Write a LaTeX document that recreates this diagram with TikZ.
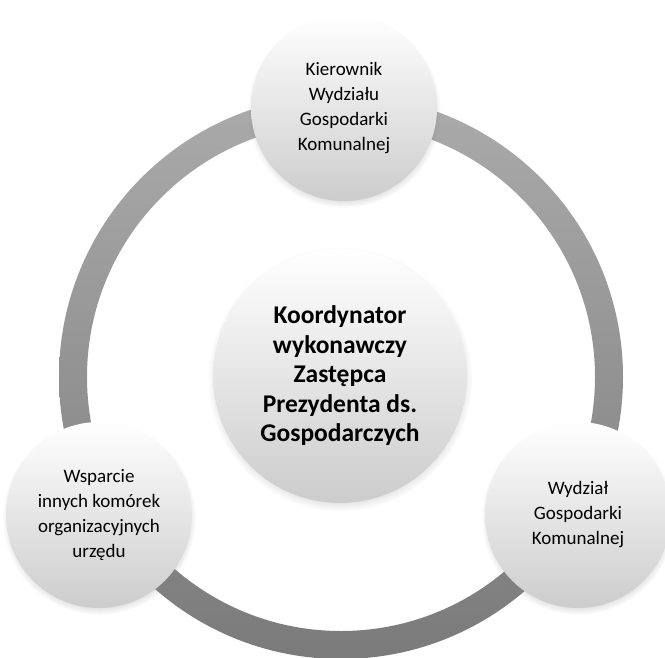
\documentclass[tikz,border=0pt]{standalone}
\usepackage{fontspec}
\setmainfont{Carlito}
\usetikzlibrary{shadows}
\tikzset{
  ball/.style={circle, inner sep=0pt, minimum size=186pt, align=center,
    top color=white, bottom color=black!20,
    circular drop shadow={shadow xshift=0pt, shadow yshift=-3pt, shadow scale=1.04, opacity=0.4},
    font=\fontsize{19}{25}\selectfont, text=black},
  bigball/.style={ball, minimum size=254pt, font=\bfseries\fontsize{25.5}{29.5}\selectfont, text=black}
}
\begin{document}
\begin{tikzpicture}[x=1pt,y=-1pt]
\useasboundingbox (0,0) rectangle (665,657);
\fill[white] (0,0) rectangle (665,657);
% ring
\shade[even odd rule, top color=black!33, bottom color=black!52]
  (341,377) circle (282) (341,377) circle (254);
\node[bigball] (center) at (340,376) {Koordynator\\wykonawczy\\Zastępca\\Prezydenta ds.\\Gospodarczych};
\node[ball] (top) at (344,108) {Kierownik\\Wydziału\\Gospodarki\\Komunalnej};
\node[ball] (left) at (99,515) {Wsparcie\\innych komórek\\organizacyjnych\\urzędu};
\node[ball] (right) at (578,515) {Wydział\\Gospodarki\\Komunalnej};
\end{tikzpicture}
\end{document}
